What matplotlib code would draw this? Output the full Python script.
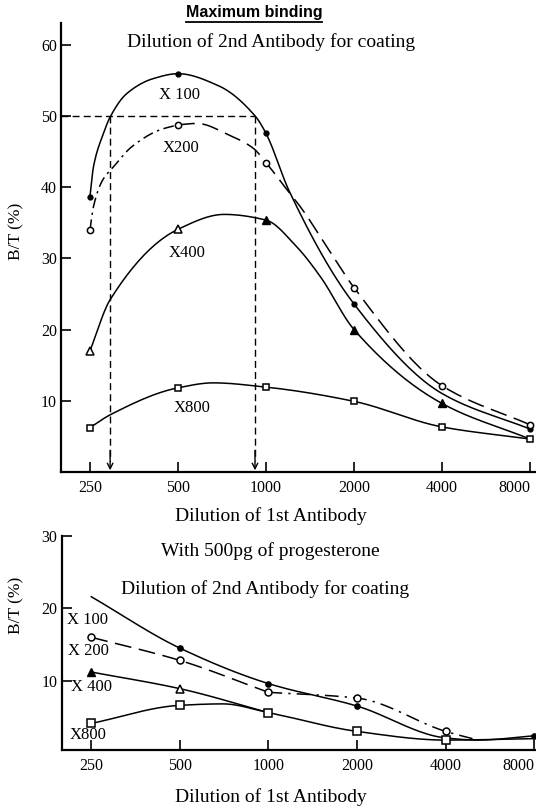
import numpy as np
import matplotlib
matplotlib.use('Agg')
import matplotlib.pyplot as plt
from matplotlib.lines import Line2D

plt.rcParams['font.family'] = ['Liberation Serif', 'DejaVu Serif']

doses = [250, 500, 1000, 2000, 4000, 8000]
dose_labels = ['250', '500', '1000', '2000', '4000', '8000']

# ---- top panel: maximum binding ----
top_x100_mx = [250, 500, 1000, 2000, 8000]
top_x100_my = [38.7, 56.0, 47.6, 23.6, 6.0]
top_x100_lx = [250, 257, 278, 293, 334, 411, 500, 688, 920, 1000, 1200, 2000, 4000, 8000]
top_x100_ly = [38.7, 42.9, 47.6, 49.9, 53.2, 55.3, 56.0, 54.3, 50.0, 47.6, 39.5, 23.6, 11.0, 6.0]

top_x200_mx = [250, 500, 1000, 2000, 4000, 8000]
top_x200_my = [34.0, 48.8, 43.5, 25.9, 12.1, 6.6]
top_x200_lx1 = [250, 257, 276, 301, 347, 434, 500]
top_x200_ly1 = [34.0, 37.3, 41.0, 42.9, 45.7, 48.1, 48.8]
top_x200_lx2 = [500, 580, 753, 905, 1000, 1148, 1336, 1611, 2000, 4000, 8000]
top_x200_ly2 = [48.8, 49.0, 47.3, 45.5, 43.5, 40.3, 36.8, 31.7, 25.9, 12.1, 6.6]

top_x400_mx = [250, 500, 1000, 2000, 4000]
top_x400_my = [17.0, 34.1, 35.4, 20.0, 9.6]
top_x400_lx = [250, 293, 500, 720, 1000, 1270, 1537, 2000, 4000, 8000]
top_x400_ly = [17.0, 24.2, 34.1, 36.2, 35.4, 31.7, 27.4, 20.0, 9.6, 4.6]

top_x800_mx = [250, 500, 1000, 2000, 4000, 8000]
top_x800_my = [6.2, 11.8, 11.9, 9.9, 6.3, 4.6]
top_x800_lx = [250, 293, 500, 660, 1000, 2000, 4000, 8000]
top_x800_ly = [6.2, 8.0, 11.8, 12.5, 11.9, 9.9, 6.3, 4.6]

half_max = 50
half_max_doses = [293, 917]

# ---- bottom panel: with 500pg progesterone ----
bot_x100_mx = [500, 1000, 2000, 8000]
bot_x100_my = [14.5, 9.6, 6.5, 2.4]
bot_x100_lx = [250, 500, 1000, 2000, 4000, 5150, 8000]
bot_x100_ly = [21.6, 14.5, 9.6, 6.5, 2.1, 1.8, 2.4]

bot_x200_mx = [250, 500, 1000, 2000, 4000]
bot_x200_my = [16.0, 12.8, 8.4, 7.6, 3.0]
bot_x200_lx1 = [250, 500, 1000]
bot_x200_ly1 = [16.0, 12.8, 8.4]
bot_x200_lx2 = [1000, 2000, 4000, 5150]
bot_x200_ly2 = [8.4, 7.6, 3.0, 1.8]

bot_x400_mx = [250, 500]
bot_x400_my = [11.2, 8.9]
bot_x400_lx = [250, 500, 1000]
bot_x400_ly = [11.2, 8.9, 5.6]

bot_x800_mx = [250, 500, 1000, 2000, 4000]
bot_x800_my = [4.1, 6.6, 5.6, 3.0, 1.8]
bot_x800_lx = [250, 500, 700, 1000, 2000, 4000, 8000]
bot_x800_ly = [4.1, 6.6, 6.8, 5.6, 3.0, 1.8, 2.0]


def smooth(xs, ys, n=24):
    # monotone cubic (pchip style) through the points, in log2 x
    t = np.log2(np.asarray(xs, float))
    y = np.asarray(ys, float)
    h = np.diff(t)
    d = np.diff(y) / h
    m = np.zeros_like(y)
    m[0], m[-1] = d[0], d[-1]
    for i in range(1, len(y) - 1):
        if d[i - 1] * d[i] > 0:
            w1 = 2 * h[i] + h[i - 1]
            w2 = h[i] + 2 * h[i - 1]
            m[i] = (w1 + w2) / (w1 / d[i - 1] + w2 / d[i])
    tt, yy = [], []
    for i in range(len(t) - 1):
        s = np.linspace(0, 1, n, endpoint=(i == len(t) - 2))
        h00 = 2 * s**3 - 3 * s**2 + 1
        h10 = s**3 - 2 * s**2 + s
        h01 = -2 * s**3 + 3 * s**2
        h11 = s**3 - s**2
        tt.append(t[i] + s * h[i])
        yy.append(h00 * y[i] + h10 * h[i] * m[i] + h01 * y[i + 1] + h11 * h[i] * m[i + 1])
    return 2 ** np.concatenate(tt), np.concatenate(yy)


def style_axes(ax, yticks):
    ax.set_xscale('log', base=2)
    ax.spines['top'].set_visible(False)
    ax.spines['right'].set_visible(False)
    ax.spines['left'].set_linewidth(1.6)
    ax.spines['bottom'].set_linewidth(1.6)
    ax.set_xticks(doses)
    ax.set_xticklabels(dose_labels)
    ax.minorticks_off()
    ax.set_yticks(yticks)
    ax.tick_params(axis='both', direction='in', length=7, width=1.2, labelsize=11.5)
    ax.tick_params(axis='x', pad=6)
    ax.tick_params(axis='y', pad=3)
    ax.get_xticklabels()[-1].set_ha('right')
    ax.patch.set_alpha(0)


fig = plt.figure(figsize=(5.36, 8.08), dpi=100)
W, H = 536, 808

lw = 1.1
k = 'black'

# top axes
ax1 = fig.add_axes([61 / W, 1 - 471.7 / H, (W - 61) / W, (471.7 - 22.5) / H])
ax1.set_xlim(199, 8385)
ax1.set_ylim(0, 63.2)
style_axes(ax1, [10, 20, 30, 40, 50, 60])

x, y = smooth(top_x100_lx, top_x100_ly)
ax1.plot(x, y, color=k, lw=lw)
ax1.plot(top_x100_mx, top_x100_my, 'o', color=k, ms=3.5)

x, y = smooth(top_x200_lx1, top_x200_ly1)
ax1.plot(x, y, color=k, lw=lw, dashes=(7, 3, 1.5, 3))
x, y = smooth(top_x200_lx2, top_x200_ly2)
ax1.plot(x, y, color=k, lw=lw, dashes=(11, 5))
ax1.plot(top_x200_mx, top_x200_my, 'o', mfc='white', mec=k, mew=1.1, ms=4.5)

x, y = smooth(top_x400_lx, top_x400_ly)
ax1.plot(x, y, color=k, lw=lw)
ax1.plot(top_x400_mx[:2], top_x400_my[:2], '^', mfc='white', mec=k, mew=1.1, ms=5.5)
ax1.plot(top_x400_mx[2:], top_x400_my[2:], '^', color=k, ms=5.5)

x, y = smooth(top_x800_lx, top_x800_ly)
ax1.plot(x, y, color=k, lw=lw)
ax1.plot(top_x800_mx, top_x800_my, 's', mfc='white', mec=k, mew=1.1, ms=5)

# 50% guide lines
ax1.plot([199, half_max_doses[1]], [half_max, half_max], color=k, lw=1, dashes=(5, 3))
for d in half_max_doses:
    ax1.plot([d, d], [half_max, 1.5], color=k, lw=1, dashes=(5, 3))
    ax1.annotate('', xy=(d, 0.2), xytext=(d, 3),
                 arrowprops=dict(arrowstyle='->', lw=1, color=k, shrinkA=0, shrinkB=0))

ax1.text(507, 53.0, 'X 100', ha='center', va='center', fontsize=12)
ax1.text(512, 45.6, 'X200', ha='center', va='center', fontsize=12)
ax1.text(536, 30.8, 'X400', ha='center', va='center', fontsize=12)
ax1.text(558, 8.9, 'X800', ha='center', va='center', fontsize=12)

# bottom axes
ax2 = fig.add_axes([61.7 / W, 1 - 750 / H, (W - 61.7) / W, (750 - 535.9) / H])
ax2.set_xlim(198.3, 8113)
ax2.set_ylim(0.43, 30)
style_axes(ax2, [10, 20, 30])

x, y = smooth(bot_x100_lx, bot_x100_ly)
ax2.plot(x, y, color=k, lw=lw)
ax2.plot(bot_x100_mx, bot_x100_my, 'o', color=k, ms=3.8)

x, y = smooth(bot_x200_lx1, bot_x200_ly1)
ax2.plot(x, y, color=k, lw=lw, dashes=(11, 5))
x, y = smooth(bot_x200_lx2, bot_x200_ly2)
ax2.plot(x, y, color=k, lw=lw, dashes=(9, 4, 1.5, 4))
ax2.plot(bot_x200_mx, bot_x200_my, 'o', mfc='white', mec=k, mew=1.1, ms=5)

x, y = smooth(bot_x400_lx, bot_x400_ly)
ax2.plot(x, y, color=k, lw=lw)
ax2.plot(bot_x400_mx[:1], bot_x400_my[:1], '^', color=k, ms=5.5)
ax2.plot(bot_x400_mx[1:], bot_x400_my[1:], '^', mfc='white', mec=k, mew=1.1, ms=5.5)

x, y = smooth(bot_x800_lx, bot_x800_ly)
ax2.plot(x, y, color=k, lw=lw)
ax2.plot(bot_x800_mx, bot_x800_my, 's', mfc='white', mec=k, mew=1.1, ms=5.5)

ax2.text(242, 18.4, 'X 100', ha='center', va='center', fontsize=12)
ax2.text(245, 14.1, 'X 200', ha='center', va='center', fontsize=12)
ax2.text(251, 9.1, 'X 400', ha='center', va='center', fontsize=12)
ax2.text(244, 2.5, 'X800', ha='center', va='center', fontsize=12)

# titles and axis labels
def ftext(px, py, s, **kw):
    return fig.text(px / W, 1 - py / H, s, ha='center', va='center', **kw)

title = ftext(254, 13, 'Maximum binding', fontsize=11.5, fontweight='bold',
              family=['Liberation Sans', 'DejaVu Sans'])
ftext(271, 42, 'Dilution of 2nd Antibody for coating', fontsize=14)
ftext(271, 516, 'Dilution of 1st Antibody', fontsize=14)
ftext(16, 231, 'B/T (%)', fontsize=12.5, rotation=90)

ftext(270, 551, 'With 500pg of progesterone', fontsize=14)
ftext(265, 589, 'Dilution of 2nd Antibody for coating', fontsize=14)
ftext(271, 797, 'Dilution of 1st Antibody', fontsize=14)
ftext(16, 605, 'B/T (%)', fontsize=12.5, rotation=90)

# underline the title
fig.canvas.draw()
bb = title.get_window_extent(fig.canvas.get_renderer()).transformed(fig.transFigure.inverted())
fig.add_artist(Line2D([bb.x0, bb.x1], [bb.y0 - 0.002, bb.y0 - 0.002],
                      transform=fig.transFigure, color=k, lw=1.3))

fig.savefig('out.png', dpi=100)
